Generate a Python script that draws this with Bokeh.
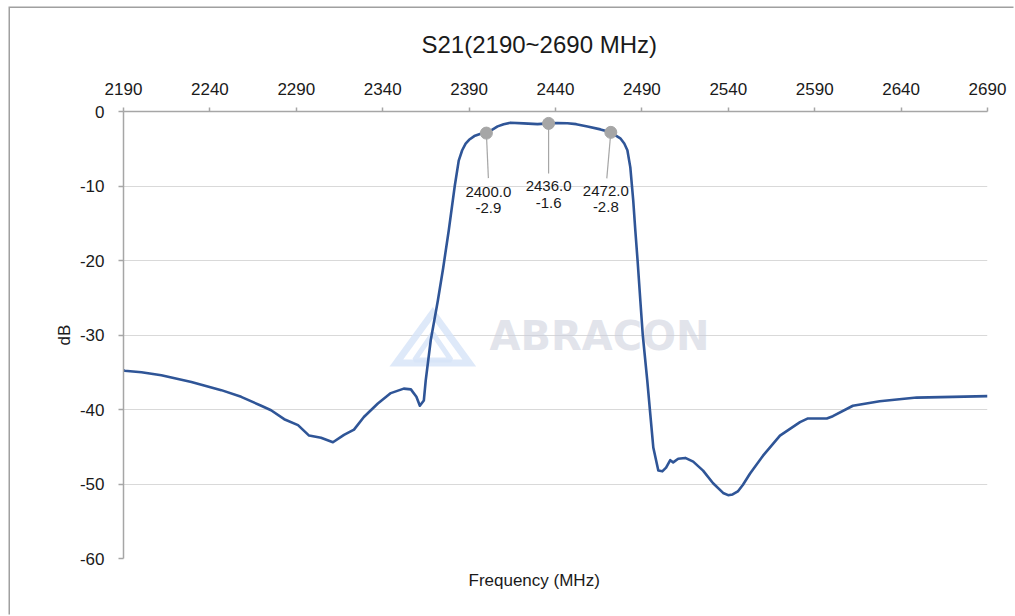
from bokeh.plotting import figure
from bokeh.models import Range1d, FixedTicker, Title
from bokeh.core.properties import value
from bokeh.embed import file_html
from bokeh.resources import INLINE

# ---------------- data ----------------
freq = [2190.0, 2190.6, 2200.4, 2211.9, 2229.3, 2246.6, 2258.1, 2269.7, 2275.4,
        2283.0, 2291.0, 2297.4, 2304.3, 2311.2, 2317.6, 2323.4, 2329.1, 2337.2,
        2344.7, 2352.2, 2356.3, 2359.5, 2361.5, 2363.8, 2364.9, 2367.8, 2371.9,
        2375.0, 2378.2, 2381.7, 2384.0, 2386.0, 2388.0, 2390.0, 2393.0, 2396.7,
        2400.0, 2403.0, 2406.5, 2410.0, 2414.0, 2421.5, 2429.6, 2436.0, 2441.0,
        2446.9, 2452.0, 2458.5, 2466.0, 2472.0, 2477.5, 2479.8, 2481.6, 2483.3,
        2485.0, 2486.2, 2487.5, 2489.1, 2490.5, 2493.1, 2494.8, 2496.6, 2499.5,
        2501.8, 2504.0, 2506.4, 2508.1, 2511.0, 2515.1, 2519.7, 2525.4, 2531.2,
        2537.0, 2539.9, 2542.5, 2545.5, 2548.5, 2552.6, 2560.1, 2569.9, 2581.5,
        2586.1, 2597.0, 2600.5, 2612.1, 2627.6, 2649.0, 2670.0, 2690.0]
s21 = [-34.7, -34.8, -35.0, -35.4, -36.3, -37.4, -38.3, -39.5, -40.1,
       -41.3, -42.1, -43.5, -43.8, -44.4, -43.4, -42.7, -41.0, -39.2,
       -37.8, -37.2, -37.3, -38.3, -39.5, -38.8, -36.1, -30.7, -25.4,
       -21.0, -16.0, -10.0, -6.6, -5.2, -4.3, -3.8, -3.3, -3.0,
       -2.9, -2.5, -2.0, -1.7, -1.5, -1.6, -1.7, -1.6, -1.55,
       -1.57, -1.7, -2.0, -2.4, -2.8, -3.6, -4.3, -5.2, -7.5,
       -12.0, -16.0, -20.0, -25.4, -30.0, -36.1, -40.5, -45.1, -48.2,
       -48.3, -47.8, -46.8, -47.1, -46.6, -46.5, -47.0, -48.2, -49.9,
       -51.2, -51.5, -51.4, -51.0, -50.1, -48.6, -46.2, -43.5, -41.7,
       -41.2, -41.2, -40.9, -39.5, -38.9, -38.4, -38.3, -38.2]

marker_freq = [2400.0, 2436.0, 2472.0]
marker_db = [-2.9, -1.6, -2.8]

x_ticks = [2190, 2240, 2290, 2340, 2390, 2440, 2490, 2540, 2590, 2640, 2690]
y_ticks = [-60, -50, -40, -30, -20, -10, 0]
y_tick_labels = ["-60", "-50", "-40", "-30", "-20", "-10", "0"]

title_text = "S21(2190~2690 MHz)"
x_label = "Frequency (MHz)"
y_label = "dB"
watermark = "ABRACON"

FONT = "Liberation Sans"
TXT = "#1a1a1a"
AXIS = "#a6a6a6"

p = figure(width=1005, height=608, output_backend="svg", toolbar_location=None,
           x_range=Range1d(2190, 2690), y_range=Range1d(-60, 0),
           x_axis_location="above",
           min_border_left=113, min_border_right=28,
           min_border_top=103, min_border_bottom=58,
           tools="")
p.styles = {"margin-left": "10px", "margin-top": "8px",
            "box-shadow": "-1.5px -1.5px 0px 0px #a0a0a0"}
p.outline_line_color = None
p.background_fill_color = "white"
p.border_fill_color = "white"

# title
p.title.text = title_text
p.title.text_font = FONT
p.title.text_font_size = "24px"
p.title.text_font_style = "normal"
p.title.text_color = TXT
p.title.align = "left"
p.title.offset = 298
p.title.vertical_align = "top"
p.title.text_line_height = 0.8
p.title.standoff = 40

# bottom label as a title
p.add_layout(Title(text=x_label, align="left", offset=345, text_font=FONT,
                   text_font_size="17px", text_font_style="normal",
                   text_color=TXT, standoff=20), "below")

# axes
xa = p.xaxis[0]
xa.ticker = FixedTicker(ticks=x_ticks)
xa.major_label_text_font = FONT
xa.major_label_text_font_size = "17px"
xa.major_label_text_color = TXT
xa.axis_line_color = AXIS
xa.axis_line_width = 1.5
xa.major_tick_line_color = AXIS
xa.major_tick_line_width = 1.5
xa.major_tick_out = 4
xa.major_tick_in = 0
xa.minor_tick_line_color = None
xa.major_label_standoff = 13

ya = p.yaxis[0]
ya.ticker = FixedTicker(ticks=y_ticks)
ya.major_label_overrides = {t: l for t, l in zip(y_ticks, y_tick_labels)}
ya.major_label_text_font = FONT
ya.major_label_text_font_size = "17px"
ya.major_label_text_color = TXT
ya.axis_line_color = AXIS
ya.axis_line_width = 1.5
ya.major_tick_line_color = AXIS
ya.major_tick_line_width = 1.5
ya.major_tick_out = 5
ya.major_tick_in = 0
ya.minor_tick_line_color = None
ya.major_label_standoff = 14
ya.axis_label = y_label
ya.axis_label_text_font = FONT
ya.axis_label_text_font_size = "17px"
ya.axis_label_text_font_style = "normal"
ya.axis_label_text_color = TXT
ya.axis_label_standoff = 3

p.xgrid.grid_line_color = None
p.ygrid.ticker = FixedTicker(ticks=y_ticks)
p.ygrid.grid_line_color = "#d9d9d9"
p.ygrid.grid_line_width = 1.2

# scales (px per data unit) for screen offsets
px_x = 865 / 500.0
px_y = 447 / 60.0

# watermark logo (triangle) and text
cx, cy = 2369.0, -30.4
lw, lh = 73 / px_x, 50 / px_y
p.patch([cx - lw / 2, cx, cx + lw / 2], [cy - lh / 2, cy + lh / 2, cy - lh / 2],
        fill_color=None, line_color="#d6e4f8", line_width=7, line_alpha=0.8,
        line_join="miter")
p.patch([cx - lw / 4, cx, cx + lw / 4], [cy - lh / 2 + 0.4, cy + 0.6, cy - lh / 2 + 0.4],
        fill_color=None, line_color="#d6e4f8", line_width=5, line_alpha=0.8)
p.text(x=[2465.5], y=[-30.2], text=[watermark], text_font=value("DejaVu Sans"),
       text_font_style="bold", text_font_size="40px", text_color="#c9cddb",
       text_alpha=0.55, text_align="center", text_baseline="middle")

# curve
p.line(freq, s21, line_color="#2f5597", line_width=2.6, line_join="round")

# marker leaders and labels
label_dx = [2, 0, -5]
leader_dx = [2, 0, -4]
leader_dy = [45, 50, 46]
line1_dy = [59, 63, 59]
line2_dy = [75, 80, 75]
x1 = [f + d / px_x for f, d in zip(marker_freq, leader_dx)]
y1 = [v - d / px_y for v, d in zip(marker_db, leader_dy)]
p.segment(x0=marker_freq, y0=marker_db, x1=x1, y1=y1, line_color="#a6a6a6", line_width=1.2)
p.scatter(marker_freq, marker_db, size=12, marker="circle",
          fill_color="#a6a6a6", line_color="#a6a6a6")
lx = [f + d / px_x for f, d in zip(marker_freq, label_dx)]
ly1 = [v - d / px_y for v, d in zip(marker_db, line1_dy)]
ly2 = [v - d / px_y for v, d in zip(marker_db, line2_dy)]
p.text(x=lx, y=ly1, text=["%.1f" % f for f in marker_freq], text_font=value(FONT),
       text_font_size="15px", text_color=TXT, text_align="center", text_baseline="middle")
p.text(x=lx, y=ly2, text=["%.1f" % v for v in marker_db], text_font=value(FONT),
       text_font_size="15px", text_color=TXT, text_align="center", text_baseline="middle")

open("out.html", "w").write(file_html(p, INLINE))
